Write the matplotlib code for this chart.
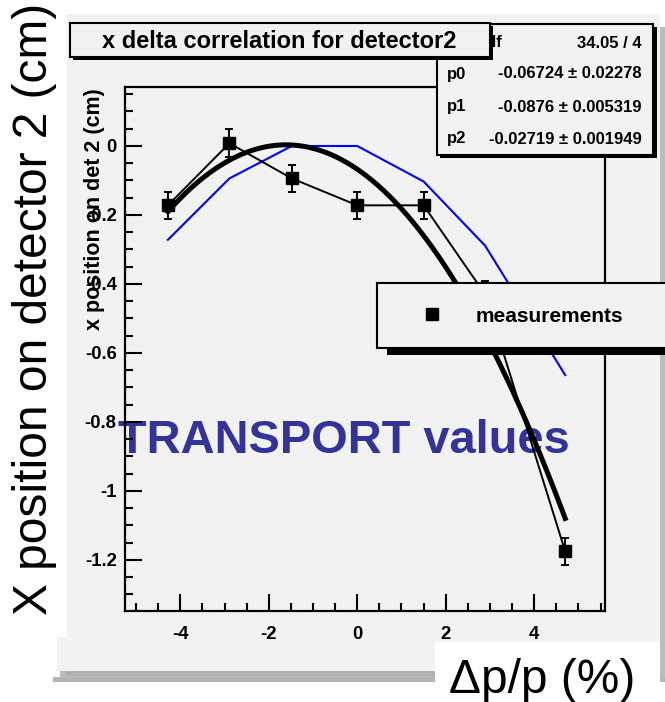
import numpy as np
import matplotlib.pyplot as plt
from matplotlib.patches import Rectangle
from matplotlib.lines import Line2D
from matplotlib.ticker import MultipleLocator

plt.rcParams['font.family'] = ['Liberation Sans', 'DejaVu Sans']
plt.rcParams['axes.unicode_minus'] = False

# values
delta = [-4.28, -2.89, -1.48, 0.0, 1.50, 2.89, 4.70]          # dp/p (%)
xpos = [-0.172, 0.008, -0.094, -0.172, -0.172, -0.43, -1.175]  # measurements (cm)
xpos_err = [0.04, 0.04, 0.04, 0.04, 0.04, 0.04, 0.04]
transport = [-0.272, -0.094, 0.0, 0.0, -0.103, -0.289, -0.664]  # TRANSPORT values

# pol2 fit result shown in the stats box
fit_pars = [-0.06724, -0.0876, -0.02719]
stats_labels = ['χ² / ndf', 'p0', 'p1', 'p2']
stats_values = ['34.05 / 4', '-0.06724 ± 0.02278', '-0.0876 ± 0.005319', '-0.02719 ± 0.001949']

W, H = 665, 702
fig = plt.figure(figsize=(W / 100, H / 100), dpi=100)


def box(x0, y0, x1, y1, **kw):
    # rectangle given in pixels from the top left corner
    r = Rectangle((x0 / W, 1 - y1 / H), (x1 - x0) / W, (y1 - y0) / H,
                  transform=fig.transFigure, **kw)
    fig.add_artist(r)
    return r


def ftext(x, y, s, **kw):
    return fig.text(x / W, 1 - y / H, s, **kw)


# canvas with its bevel, partly hidden by the slide text boxes
box(60, 27, 665, 682, fc='#bcbcbc', ec='none', zorder=-10)
box(53, 677, 665, 682, fc='#b4b4b4', ec='none', zorder=-10)
box(57, 14, 660, 671, fc='#f2f2f2', ec='none', zorder=-9)
box(65, 671, 660, 676, fc='#b0b0b0', ec='none', zorder=-9)
box(0, 0, 67, 637, fc='white', ec='none', zorder=-8)
box(435, 642, 660, 702, fc='white', ec='none', zorder=-8)

# frame
ax = fig.add_axes([125 / W, 1 - 611 / H, 480 / W, 524 / H])
ax.set_facecolor('#f2f2f2')

ax.plot(delta, transport, color='#0000ff', lw=1.5, zorder=2)
xs = np.linspace(delta[0], delta[-1], 200)
ax.plot(xs, np.polyval(fit_pars[::-1], xs), color='black', lw=3.6, zorder=3)
ax.errorbar(delta, xpos, yerr=xpos_err, fmt='s-', color='black', ms=8, lw=1.4,
            elinewidth=1.4, capsize=3, capthick=1.4, zorder=4)

ax.set_xlim(-5.25, 5.6)
ax.set_ylim(-1.348, 0.171)
ax.xaxis.set_major_locator(MultipleLocator(2))
ax.xaxis.set_minor_locator(MultipleLocator(0.5))
ax.yaxis.set_minor_locator(MultipleLocator(0.05))
ax.set_yticks(np.arange(-1.2, 0.01, 0.2))
ax.set_yticklabels(['-1.2', '-1', '-0.8', '-0.6', '-0.4', '-0.2', '0'])
ax.tick_params(which='both', direction='in', width=1.5, top=False, right=False)
ax.tick_params(which='major', length=12)
ax.tick_params(which='minor', length=6)
ax.tick_params(axis='y', pad=6)
ax.tick_params(axis='x', pad=11)
for lab in ax.get_xticklabels() + ax.get_yticklabels():
    lab.set_fontweight('bold')
    lab.set_fontsize(13.3)
for sp in ax.spines.values():
    sp.set_linewidth(1.6)

ftext(100, 88, 'x position on det 2 (cm)', rotation=90, rotation_mode='anchor',
      ha='right', va='baseline', fontsize=15.5, fontweight='bold', zorder=3)

ax.text(118 / W, 1 - 453 / H, 'TRANSPORT values', transform=fig.transFigure,
        fontsize=33.8, fontweight='bold', color='#333399', ha='left', va='baseline',
        zorder=1.5, clip_on=False)

# stats box
box(440, 27, 657, 158, fc='black', ec='none', zorder=3)
box(437, 24, 653, 155, fc='#f2f2f2', ec='black', lw=1.5, zorder=3.2)
for i, yy in enumerate([43, 74, 107, 139]):
    ftext(447, yy, stats_labels[i], fontsize=12, fontweight='bold', va='center', zorder=3.4)
    ftext(642, yy, stats_values[i], fontsize=12, fontweight='bold', va='center',
          ha='right', zorder=3.4)

# title box
box(73, 26, 493, 60, fc='black', ec='none', zorder=6)
box(70, 23, 490, 57, fc='#f2f2f2', ec='black', lw=1.5, zorder=6.2)
ftext(279, 41, 'x delta correlation for detector2', fontsize=17, fontweight='bold',
      ha='center', va='center', zorder=6.4)

# legend
box(387, 290, 700, 355, fc='black', ec='none', zorder=4)
box(377, 283, 700, 348, fc='#f2f2f2', ec='black', lw=1.5, zorder=4.2)
handle = Line2D([], [], marker='s', ls='none', color='black', ms=8)
fig.legend([handle], ['measurements'], loc='center left',
           bbox_to_anchor=(401 / W, 1 - 316 / H), frameon=False, borderpad=0,
           handlelength=2, handletextpad=1.07,
           prop={'weight': 'bold', 'size': 15}).set_zorder(4.5)

# slide labels
ftext(47, 615, 'X position on detector 2 (cm)', rotation=90, rotation_mode='anchor',
      ha='left', va='baseline', fontsize=34.5, zorder=2)
ftext(449, 693, 'Δp/p (%)', ha='left', va='baseline', fontsize=34.5, zorder=2)

fig.savefig('out.png', dpi=100)
